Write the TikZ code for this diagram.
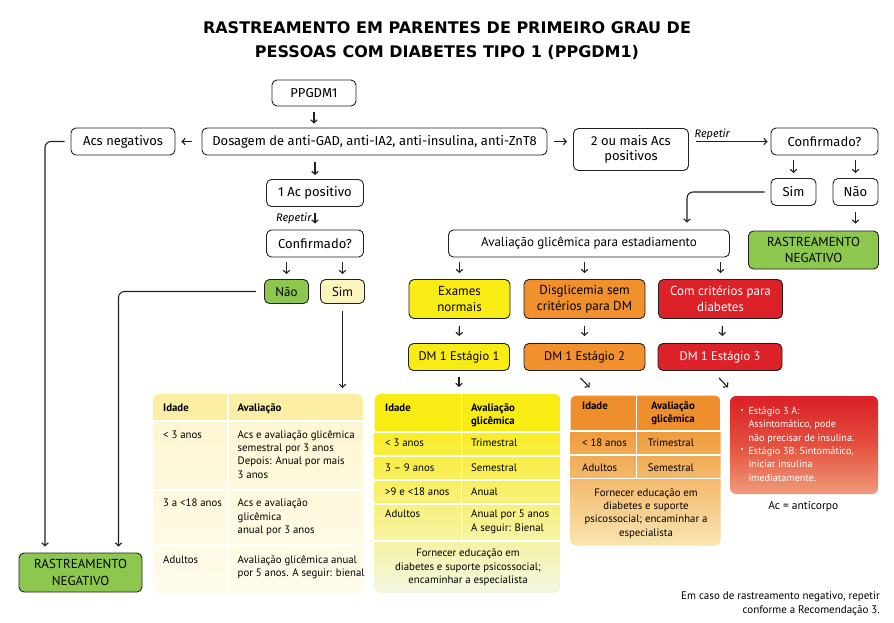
\documentclass[tikz,border=0pt]{standalone}
\usepackage{fontspec}
\setmainfont{PT Sans}
\newfontfamily\fira{Fira Sans}
\newfontfamily\titlefont{DejaVu Sans}
\usetikzlibrary{arrows.meta,calc}
\definecolor{cgreen}{HTML}{8EC74D}
\definecolor{cyellow}{HTML}{F9EB14}
\definecolor{corange}{HTML}{F0912E}
\definecolor{cred}{HTML}{DC2128}
\definecolor{cpale}{HTML}{FCF4BD}
\definecolor{cline}{HTML}{231F20}
\tikzset{
  box/.style={draw=cline, line width=0.9pt, rounded corners=5pt, align=center, inner sep=2pt, fill=white},
  fbox/.style={box, font=\fira\fontsize{13}{15}\selectfont},
  pbox/.style={box, font=\fontsize{13}{16}\selectfont},
  arr/.style={draw=cline, line width=1.1pt, -{Straight Barb[length=3pt,width=6.5pt]}},
  tt/.style={anchor=north west, yshift=9.31pt, inner sep=0pt, align=left, font=\fontsize{10.8}{13.3}\selectfont},
  tc/.style={tt, anchor=north, align=center},
  th/.style={tt, font=\bfseries\fontsize{10.8}{13.3}\selectfont},
  thc/.style={th, anchor=north, align=center},
  rep/.style={font=\fira\itshape\fontsize{11}{12}\selectfont, inner sep=1pt},
  sep/.style={draw=white, line width=1.2pt},
  tbl/.style={inner sep=0pt, outer sep=0pt},
  ttl/.style={anchor=base, inner sep=0pt, font=\titlefont\bfseries\fontsize{16}{20}\selectfont}
}
\begin{document}
\begin{tikzpicture}[x=1pt,y=-1pt]
\useasboundingbox[fill=white] (0,0) rectangle (894,623);

% title
\node[ttl] (title1) at (447,33.3) {RASTREAMENTO EM PARENTES DE PRIMEIRO GRAU DE};
\node[ttl] (title2) at (447,57.3) {PESSOAS COM DIABETES TIPO 1 (PPGDM1)};

% upper flowchart
\node[fbox, minimum width=84, minimum height=26] (ppg) at (314,93) {PPGDM1};
\node[fbox, minimum width=345, minimum height=27] (dos) at (374.5,141.5) {Dosagem de anti-GAD, anti-IA2, anti-insulina, anti-ZnT8};
\node[fbox, minimum width=104, minimum height=27] (acsneg) at (123,141.5) {Acs negativos};
\node[fbox, minimum width=115, minimum height=42] (two) at (631,149.5) {2 ou mais Acs\\positivos};
\node[fbox, minimum width=107, minimum height=27] (conf2) at (824.5,141.5) {Confirmado?};
\node[fbox, minimum width=45, minimum height=27] (simR) at (793.5,192) {Sim};
\node[fbox, minimum width=45, minimum height=27] (naoR) at (855.5,192) {Não};
\node[pbox, fill=cgreen, minimum width=130, minimum height=38, font=\fontsize{13}{16.7}\selectfont] (rnR) at (813.5,250) {RASTREAMENTO\\NEGATIVO};
\node[pbox, minimum width=281, minimum height=27] (aval) at (589,243.5) {Avaliação glicêmica para estadiamento};
\node[pbox, fill=cyellow, minimum width=101, minimum height=39] (exa) at (459.5,299) {Exames\\normais};
\node[pbox, fill=corange, minimum width=121, minimum height=39] (dis) at (584.5,299) {Disglicemia sem\\critérios para DM};
\node[pbox, fill=cred, text=white, minimum width=124, minimum height=39] (com) at (720.5,299) {Com critérios para\\diabetes};
\node[pbox, fill=cyellow, minimum width=101, minimum height=27, font=\fontsize{12.5}{16}\selectfont] (dm1) at (459,357) {DM 1 Estágio 1};
\node[pbox, fill=corange, minimum width=121, minimum height=27, font=\fontsize{12.5}{16}\selectfont] (dm2) at (584.5,357) {DM 1 Estágio 2};
\node[pbox, fill=cred, text=white, minimum width=124, minimum height=27, font=\fontsize{12.5}{16}\selectfont] (dm3) at (720,357) {DM 1 Estágio 3};

\node[fbox, minimum width=97, minimum height=27] (ac1) at (315,193) {1 Ac positivo};
\node[fbox, minimum width=97, minimum height=27] (conf1) at (315,243.5) {Confirmado?};
\node[pbox, fill=cgreen, minimum width=44, minimum height=24] (naoL) at (286.5,291.5) {Não};
\node[pbox, fill=cpale, minimum width=44, minimum height=24] (simL) at (342.5,291.5) {Sim};
\node[pbox, fill=cgreen, minimum width=123, minimum height=39, font=\fontsize{13}{16.7}\selectfont] (rnL) at (80.5,572.5) {RASTREAMENTO\\NEGATIVO};

% connectors
\draw[arr, shorten <=6pt, shorten >=4pt] (ppg.south) -- (ppg.south |- dos.north);
\draw[arr, shorten <=10pt, shorten >=6pt] (dos.west) -- (acsneg.east);
\draw[arr, shorten <=7pt, shorten >=6pt] (dos.east) -- (dos.east -| two.west);
\draw[arr, shorten <=7pt, shorten >=3pt] (two.east |- conf2.west) -- (conf2.west)
  node[rep, pos=0.05, anchor=south west] (rep2) {Repetir};
\draw[arr, shorten <=5pt, shorten >=5pt] (simR.north |- conf2.south) -- (simR.north);
\draw[arr, shorten <=5pt, shorten >=5pt] (naoR.north |- conf2.south) -- (naoR.north);
\draw[arr, rounded corners=6pt, shorten <=6pt, shorten >=7pt] (simR.west) -| ([xshift=98pt]aval.north);
\draw[arr, shorten <=6pt, shorten >=7pt] (naoR.south) -- (naoR.south |- rnR.north);
\foreach \b in {exa,dis,com} {
  \draw[arr, shorten <=5pt, shorten >=6pt] (\b.north |- aval.south) -- (\b.north);
  }
\draw[arr, shorten <=7pt, shorten >=7pt] (exa.south) -- (dm1.north);
\draw[arr, shorten <=7pt, shorten >=7pt] (dis.south) -- (dm2.north);
\draw[arr, shorten <=7pt, shorten >=7pt] ([xshift=2pt]com.south) -- ([xshift=2pt]dm3.north);

\draw[arr, shorten <=7pt, shorten >=4pt] (ac1.north |- dos.south) -- (ac1.north);
\draw[arr, shorten <=6pt, shorten >=6pt] (ac1.south) -- (conf1.north)
  node[rep, midway, left=2pt] (rep1) {Repetir};
\draw[arr, shorten <=5pt, shorten >=5pt] (naoL.north |- conf1.south) -- (naoL.north);
\draw[arr, shorten <=5pt, shorten >=5pt] (simL.north |- conf1.south) -- (simL.north);
\draw[arr, rounded corners=6pt, shorten <=8pt, shorten >=6pt] (naoL.west) -| ([xshift=38pt]rnL.north);
\draw[arr, rounded corners=6pt, shorten <=6pt, shorten >=6pt] (acsneg.west) -| ([xshift=-35.5pt]rnL.north);

% tables (frames)
\node[tbl, minimum width=210, minimum height=199] (t1) at (258,493.5) {};
\node[tbl, minimum width=186, minimum height=199] (t2) at (467.5,493.5) {};
\node[tbl, minimum width=150, minimum height=150] (t3) at (645.5,470.7) {};
\node[tbl, minimum width=148, minimum height=98] (t4) at (804,445) {};

\draw[arr, shorten <=7pt, shorten >=6pt] (simL.south) -- (simL.south |- t1.north);
\draw[arr, shorten <=6pt, shorten >=7pt] (dm1.south) -- (dm1.south |- t2.north);
\draw[arr] ([shift={(-4pt,-7pt)}]dm2.south) -- ++(9,9.5);
\draw[arr] ([shift={(-1pt,-7pt)}]dm3.south) -- ++(9,9.5);

% table 1
\begin{scope}
\clip[rounded corners=6pt] (t1.north west) rectangle (t1.south east);
\fill[color={rgb,255:red,252;green,239;blue,163}] (153,394) rectangle (363,421);
\shade[top color={rgb,255:red,254;green,247;blue,212}, bottom color={rgb,255:red,255;green,251;blue,234}] (153,421) rectangle (363,593);
\end{scope}
\draw[sep] (228,394) -- (228,593);
\foreach \yy in {421,490,545} \draw[sep] (153,\yy) -- (363,\yy);
\node[th] (t1h1) at (163,411) {\strut Idade};
\node[th] (t1h2) at (237.5,411) {\strut Avaliação};
\node[tt] (t1a) at (163,438) {\strut < 3 anos};
\node[tt] (t1b) at (237.5,438) {\strut Acs e avaliação glicêmica\\semestral por 3 anos\\Depois: Anual por mais\\3 anos};
\node[tt] (t1c) at (163,506.7) {\strut 3 a <18 anos};
\node[tt] (t1d) at (237.5,506.7) {\strut Acs e avaliação\\glicêmica\\anual por 3 anos};
\node[tt] (t1e) at (163,563.3) {\strut Adultos};
\node[tt] (t1f) at (237.5,563.3) {\strut Avaliação glicêmica anual\\por 5 anos. A seguir: bienal};

% table 2
\begin{scope}
\clip[rounded corners=6pt] (t2.north west) rectangle (t2.south east);
\fill[cyellow] (374,394) rectangle (561,432);
\shade[top color={rgb,255:red,249;green,236;blue,40}, bottom color={rgb,255:red,244;green,246;blue,226}] (374,432) rectangle (561,593);
\end{scope}
\draw[sep] (461.5,394) -- (461.5,541);
\foreach \yy in {432,456,480,504,541} \draw[sep] (374,\yy) -- (561,\yy);
\node[th] (t2h1) at (385,411) {\strut Idade};
\node[th] (t2h2) at (471,411) {\strut Avaliação\\glicêmica};
\node[tt] (t2a) at (385,446) {\strut < 3 anos};
\node[tt] (t2b) at (471,446) {\strut Trimestral};
\node[tt] (t2c) at (385,471.7) {\strut 3 – 9 anos};
\node[tt] (t2d) at (471,471.7) {\strut Semestral};
\node[tt] (t2e) at (385,495.7) {\strut >9 e <18 anos};
\node[tt] (t2f) at (471,495.7) {\strut Anual};
\node[tt] (t2g) at (385,517.7) {\strut Adultos};
\node[tt] (t2i) at (471,517.7) {\strut Anual por 5 anos\\A seguir: Bienal};
\node[tc] (t2j) at (468,556.7) {\strut Fornecer educação em\\diabetes e suporte psicossocial;\\encaminhar a especialista};

% table 3
\begin{scope}
\clip[rounded corners=6pt] (t3.north west) rectangle (t3.south east);
\fill[color={rgb,255:red,239;green,142;blue,44}] (570,395) rectangle (721,431);
\shade[top color={rgb,255:red,240;green,155;blue,60}, bottom color={rgb,255:red,249;green,229;blue,178}] (570,431) rectangle (721,546);
\end{scope}
\draw[sep] (636.7,395) -- (636.7,478.3);
\foreach \yy in {431,455,478.3} \draw[sep] (570,\yy) -- (721,\yy);
\node[th] (t3h1) at (582,409.3) {\strut Idade};
\node[thc] (t3h2) at (673,409.3) {\strut Avaliação\\glicêmica};
\node[tt] (t3a) at (582,446.7) {\strut < 18 anos};
\node[tt] (t3b) at (647.7,446.7) {\strut Trimestral};
\node[tt] (t3c) at (582,471) {\strut Adultos};
\node[tt] (t3d) at (647.7,471) {\strut Semestral};
\node[tc] (t3e) at (646,496) {\strut Fornecer educação em\\diabetes e suporte\\psicossocial; encaminhar a\\especialista};

% red box
\shade[rounded corners=6pt, top color={rgb,255:red,218;green,31;blue,38}, bottom color={rgb,255:red,240;green,155;blue,122}, middle color={rgb,255:red,228;green,80;blue,62}] (t4.north west) rectangle (t4.south east);
\node[tt, text=white, font=\fontsize{7}{13.3}\selectfont] (b1) at (740.5,412) {\strut •};
\node[tt, text=white, font=\fontsize{7}{13.3}\selectfont] (b2) at (740.5,451) {\strut •};
\node[tt, text=white, font=\fontsize{10.2}{13.3}\selectfont] (t4a) at (748.3,414.3) {\strut Estágio 3 A:\\Assintomático, pode\\não precisar de insulina.\\Estágio 3B: Sintomático,\\iniciar insulina\\imediatamente.};

\node[tc, font=\fontsize{11.5}{13.3}\selectfont] (ac) at (803.3,509.3) {\strut Ac = anticorpo};
\node[tt, anchor=north east, align=right, yshift=0.15pt, font=\fontsize{11}{13.5}\selectfont] (foot) at (880,599.5) {\strut Em caso de rastreamento negativo, repetir\\conforme a Recomendação 3.};
\end{tikzpicture}
\end{document}
